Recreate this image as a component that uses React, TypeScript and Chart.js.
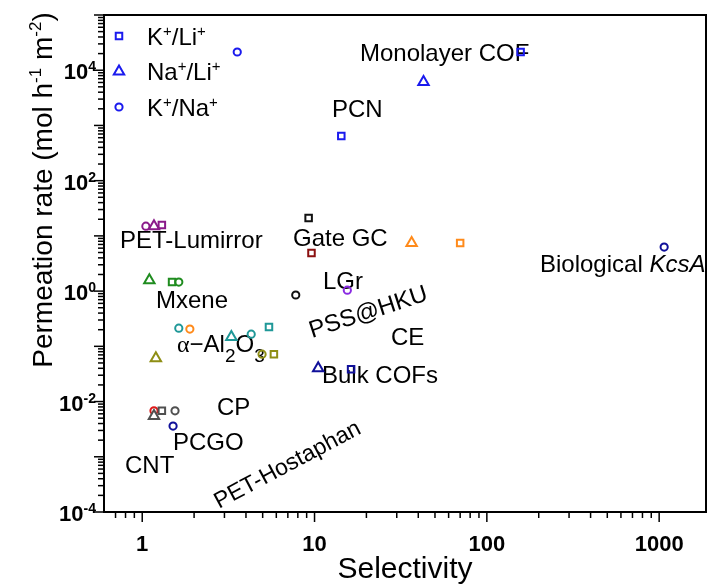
import React, { useEffect, useRef } from 'react';
import { Chart, registerables } from 'chart.js';
Chart.register(...registerables);

// ---- axis ranges / ticks ----
const X_MIN = 0.61;
const X_MAX = 1870;
const Y_MIN = 1e-4;
const Y_MAX = 1e5;
const xTickValues = [1, 10, 100, 1000];
const xTickLabels = ['1', '10', '100', '1000'];
const yLabelExponents = [-4, -2, 0, 2, 4];

// ---- data: [selectivity, permeation rate] ----
const blueSq = [[157, 21400], [14.3, 642]];
const blueTri = [[42.9, 6100]];
const blueCirc = [[3.56, 21400]];
const navySq = [[16.3, 0.0386]];
const navyTri = [[10.5, 0.040]];
const navyCirc = [[1.51, 0.0036], [1069, 6.27]];
const purpleCirc = [[1.05, 15]];
const purpleTri = [[1.17, 15]];
const purpleSq = [[1.30, 15.7]];
const blackSq = [[9.24, 21]];
const blackCirc = [[7.78, 0.85]];
const darkRedSq = [[9.6, 4.9]];
const greenTri = [[1.10, 1.58]];
const greenSq = [[1.49, 1.46]];
const greenCirc = [[1.63, 1.46]];
const tealCirc = [[1.63, 0.213], [4.29, 0.166]];
const tealTri = [[3.29, 0.147]];
const tealSq = [[5.44, 0.223]];
const orangeCirc = [[1.89, 0.205]];
const orangeTri = [[36.6, 7.4]];
const orangeSq = [[70, 7.4]];
const oliveCirc = [[4.96, 0.072]];
const oliveSq = [[5.81, 0.072]];
const oliveTri = [[1.20, 0.061]];
const violetCirc = [[15.5, 1.04]];
const redCirc = [[1.17, 0.0068]];
const grayTri = [[1.17, 0.0055]];
const graySq = [[1.30, 0.0068]];
const grayCirc = [[1.55, 0.0068]];

const BLUE = '#1a1aee';
const NAVY = '#10109a';
const PURPLE = '#8a1a8a';
const BLACK = '#111111';
const DARKRED = '#8b1010';
const GREEN = '#1f8c1f';
const TEAL = '#1f9898';
const ORANGE = '#ff8a1a';
const OLIVE = '#8e8e14';
const VIOLET = '#8a2be2';
const RED = '#e01a1a';
const GRAY = '#505050';

const FONT = '"Liberation Sans", Arial, Helvetica, sans-serif';

type Shape = 'circle' | 'rect' | 'triangle';
const RADIUS: Record<Shape, number> = { circle: 3.6, rect: 4.6, triangle: 6 };

// drawing order: first = bottom
const seriesList: { data: number[][]; color: string; shape: Shape; fill?: string }[] = [
  { data: redCirc, color: RED, shape: 'circle' },
  { data: grayTri, color: GRAY, shape: 'triangle', fill: '#fff' },
  { data: graySq, color: GRAY, shape: 'rect', fill: '#fff' },
  { data: grayCirc, color: GRAY, shape: 'circle' },
  { data: blueSq, color: BLUE, shape: 'rect' },
  { data: blueTri, color: BLUE, shape: 'triangle' },
  { data: blueCirc, color: BLUE, shape: 'circle' },
  { data: navySq, color: NAVY, shape: 'rect' },
  { data: navyTri, color: NAVY, shape: 'triangle' },
  { data: navyCirc, color: NAVY, shape: 'circle' },
  { data: purpleCirc, color: PURPLE, shape: 'circle' },
  { data: purpleTri, color: PURPLE, shape: 'triangle' },
  { data: purpleSq, color: PURPLE, shape: 'rect' },
  { data: blackSq, color: BLACK, shape: 'rect' },
  { data: blackCirc, color: BLACK, shape: 'circle' },
  { data: darkRedSq, color: DARKRED, shape: 'rect' },
  { data: greenTri, color: GREEN, shape: 'triangle' },
  { data: greenSq, color: GREEN, shape: 'rect' },
  { data: greenCirc, color: GREEN, shape: 'circle' },
  { data: tealCirc, color: TEAL, shape: 'circle' },
  { data: tealTri, color: TEAL, shape: 'triangle' },
  { data: tealSq, color: TEAL, shape: 'rect' },
  { data: orangeCirc, color: ORANGE, shape: 'circle' },
  { data: orangeTri, color: ORANGE, shape: 'triangle' },
  { data: orangeSq, color: ORANGE, shape: 'rect' },
  { data: oliveCirc, color: OLIVE, shape: 'circle' },
  { data: oliveSq, color: OLIVE, shape: 'rect' },
  { data: oliveTri, color: OLIVE, shape: 'triangle' },
  { data: violetCirc, color: VIOLET, shape: 'circle' },
];

type Part = { t: string; size: number; bold?: boolean; italic?: boolean; dy?: number; family?: string };

const annotations: { parts: Part[]; x: number; y: number; rot?: number }[] = [
  { parts: [{ t: 'Monolayer COF', size: 24 }], x: 360, y: 60.5 },
  { parts: [{ t: 'PCN', size: 24 }], x: 332, y: 116.5 },
  { parts: [{ t: 'PET-Lumirror', size: 24 }], x: 120, y: 247.5 },
  { parts: [{ t: 'Gate GC', size: 24 }], x: 293, y: 245.5 },
  { parts: [{ t: 'Mxene', size: 24 }], x: 156, y: 308 },
  { parts: [{ t: 'LGr', size: 24 }], x: 323, y: 288.5 },
  {
    parts: [
      { t: 'α', size: 24, family: '"Liberation Serif", "Times New Roman", serif' },
      { t: '−', size: 24 },
      { t: 'Al', size: 24 },
      { t: '2', size: 19, dy: 10 },
      { t: 'O', size: 24 },
      { t: '3', size: 19, dy: 10 },
    ],
    x: 177,
    y: 352,
  },
  { parts: [{ t: 'PSS@HKU', size: 24 }], x: 312, y: 338, rot: -18 },
  { parts: [{ t: 'CE', size: 24 }], x: 391, y: 345 },
  { parts: [{ t: 'Bulk COFs', size: 24 }], x: 322, y: 383 },
  { parts: [{ t: 'CP', size: 24 }], x: 217, y: 415 },
  { parts: [{ t: 'PCGO', size: 24 }], x: 173, y: 450 },
  { parts: [{ t: 'CNT', size: 24 }], x: 125, y: 473 },
  { parts: [{ t: 'Biological ', size: 24 }, { t: 'KcsA', size: 24, italic: true }], x: 540, y: 272 },
  { parts: [{ t: 'PET-Hostaphan', size: 23 }], x: 219, y: 509, rot: -28 },
];

const legendItems: { shape: Shape; label: Part[] }[] = [
  { shape: 'rect', label: [{ t: 'K', size: 24 }, { t: '+', size: 15, dy: -9 }, { t: '/Li', size: 24 }, { t: '+', size: 15, dy: -9 }] },
  { shape: 'triangle', label: [{ t: 'Na', size: 24 }, { t: '+', size: 15, dy: -9 }, { t: '/Li', size: 24 }, { t: '+', size: 15, dy: -9 }] },
  { shape: 'circle', label: [{ t: 'K', size: 24 }, { t: '+', size: 15, dy: -9 }, { t: '/Na', size: 24 }, { t: '+', size: 15, dy: -9 }] },
];

function setFont(ctx: CanvasRenderingContext2D, p: Part) {
  ctx.font = `${p.italic ? 'italic ' : ''}${p.bold ? 'bold ' : ''}${p.size}px ${p.family || FONT}`;
}
function richWidth(ctx: CanvasRenderingContext2D, parts: Part[]) {
  let w = 0;
  for (const p of parts) {
    setFont(ctx, p);
    w += ctx.measureText(p.t).width;
  }
  return w;
}
function drawRich(ctx: CanvasRenderingContext2D, parts: Part[], x: number, y: number, align: 'left' | 'center' | 'right' = 'left') {
  const w = richWidth(ctx, parts);
  let cx = align === 'left' ? x : align === 'center' ? x - w / 2 : x - w;
  ctx.textAlign = 'left';
  ctx.textBaseline = 'alphabetic';
  for (const p of parts) {
    setFont(ctx, p);
    ctx.fillText(p.t, cx, y + (p.dy || 0));
    cx += ctx.measureText(p.t).width;
  }
}
function drawMarker(ctx: CanvasRenderingContext2D, shape: Shape, x: number, y: number, color: string) {
  const r = RADIUS[shape];
  ctx.save();
  ctx.strokeStyle = color;
  ctx.lineWidth = 2;
  ctx.beginPath();
  if (shape === 'circle') ctx.arc(x, y, r, 0, Math.PI * 2);
  else if (shape === 'rect') {
    const s = r * Math.SQRT1_2;
    ctx.rect(x - s, y - s, 2 * s, 2 * s);
  } else {
    ctx.moveTo(x, y - r);
    ctx.lineTo(x + r * Math.sin((2 * Math.PI) / 3), y - r * Math.cos((2 * Math.PI) / 3));
    ctx.lineTo(x + r * Math.sin((4 * Math.PI) / 3), y - r * Math.cos((4 * Math.PI) / 3));
    ctx.closePath();
  }
  ctx.stroke();
  ctx.restore();
}

const decorPlugin = {
  id: 'decor',
  beforeDraw(chart: any) {
    const ctx = chart.ctx as CanvasRenderingContext2D;
    ctx.save();
    ctx.fillStyle = '#fff';
    ctx.fillRect(0, 0, chart.width, chart.height);
    ctx.restore();
  },
  beforeDatasetsDraw(chart: any) {
    const ctx = chart.ctx as CanvasRenderingContext2D;
    ctx.save();
    ctx.fillStyle = '#000';
    for (const a of annotations) {
      ctx.save();
      ctx.translate(a.x, a.y);
      if (a.rot) ctx.rotate((a.rot * Math.PI) / 180);
      drawRich(ctx, a.parts, 0, 0, 'left');
      ctx.restore();
    }
    ctx.restore();
  },
  afterDraw(chart: any) {
    const ctx = chart.ctx as CanvasRenderingContext2D;
    const { left, right, top, bottom } = chart.chartArea;
    const xs = chart.scales.x;
    const ys = chart.scales.y;
    ctx.save();
    ctx.strokeStyle = '#000';
    ctx.fillStyle = '#000';
    const line = (x1: number, y1: number, x2: number, y2: number) => {
      ctx.beginPath();
      ctx.moveTo(x1, y1);
      ctx.lineTo(x2, y2);
      ctx.stroke();
    };
    // y ticks
    ctx.lineWidth = 1.5;
    for (let e = -4; e <= 5; e++) {
      const py = ys.getPixelForValue(Math.pow(10, e));
      line(left - 10, py, left, py);
      if (e < 5) {
        for (let m = 2; m <= 9; m++) {
          const p = ys.getPixelForValue(m * Math.pow(10, e));
          line(left - 6, p, left, p);
        }
      }
    }
    // x ticks
    for (let e = -1; e <= 3; e++) {
      for (let m = 1; m <= 9; m++) {
        const v = m * Math.pow(10, e);
        if (v < X_MIN || v > X_MAX) continue;
        const px = xs.getPixelForValue(v);
        line(px, bottom, px, bottom + (m === 1 ? 10 : 6));
      }
    }
    // frame
    ctx.lineWidth = 2;
    ctx.strokeRect(left, top, right - left, bottom - top);

    // y tick labels
    for (const e of yLabelExponents) {
      const py = ys.getPixelForValue(Math.pow(10, e));
      drawRich(
        ctx,
        [
          { t: '10', size: 22, bold: true },
          { t: e < 0 ? '-' + Math.abs(e) : String(e), size: 14, bold: true, dy: -8 },
        ],
        96,
        py + 9,
        'right'
      );
    }
    // x tick labels
    xTickValues.forEach((v, i) => {
      const px = xs.getPixelForValue(v);
      drawRich(ctx, [{ t: xTickLabels[i], size: 22, bold: true }], px, 551, 'center');
    });

    // axis titles
    drawRich(ctx, [{ t: 'Selectivity', size: 30 }], (left + right) / 2, 578, 'center');
    ctx.save();
    ctx.translate(52, 190);
    ctx.rotate(-Math.PI / 2);
    drawRich(
      ctx,
      [
        { t: 'Permeation rate (mol h', size: 28 },
        { t: '-1', size: 17, dy: -11 },
        { t: ' m', size: 28 },
        { t: '-2', size: 17, dy: -11 },
        { t: ')', size: 28 },
      ],
      0,
      0,
      'center'
    );
    ctx.restore();

    // legend
    legendItems.forEach((item, i) => {
      const cy = 36 + i * 35.5;
      drawMarker(ctx, item.shape, 119, cy, BLUE);
      ctx.fillStyle = '#000';
      drawRich(ctx, item.label, 147, cy + 8.5, 'left');
    });
    ctx.restore();
  },
};

export default function App() {
  const ref = useRef<HTMLCanvasElement>(null);
  useEffect(() => {
    document.body.style.margin = '0';
    const datasets = seriesList
      .slice()
      .reverse()
      .map((s) => ({
        label: s.color + s.shape,
        data: s.data.map(([x, y]) => ({ x, y })),
        pointStyle: s.shape,
        pointRadius: RADIUS[s.shape],
        pointHoverRadius: RADIUS[s.shape],
        pointBorderColor: s.color,
        pointBackgroundColor: s.fill || 'rgba(0,0,0,0)',
        pointBorderWidth: 2,
        showLine: false,
        clip: false as any,
      }));
    const chart = new Chart(ref.current!, {
      type: 'scatter',
      data: { datasets },
      options: {
        animation: false,
        responsive: false,
        maintainAspectRatio: false,
        devicePixelRatio: 1,
        events: [],
        layout: { padding: { left: 104, right: 3, top: 15, bottom: 72 } },
        plugins: { legend: { display: false }, tooltip: { enabled: false }, title: { display: false } },
        scales: {
          x: { type: 'logarithmic', min: X_MIN, max: X_MAX, display: false },
          y: { type: 'logarithmic', min: Y_MIN, max: Y_MAX, display: false },
        },
      },
      plugins: [decorPlugin],
    });
    return () => chart.destroy();
  }, []);
  return (
    <div style={{ position: 'fixed', left: 0, top: 0, width: 714, height: 584, background: '#fff' }}>
      <canvas ref={ref} width={714} height={584} style={{ display: 'block', width: 714, height: 584 }} />
    </div>
  );
}
